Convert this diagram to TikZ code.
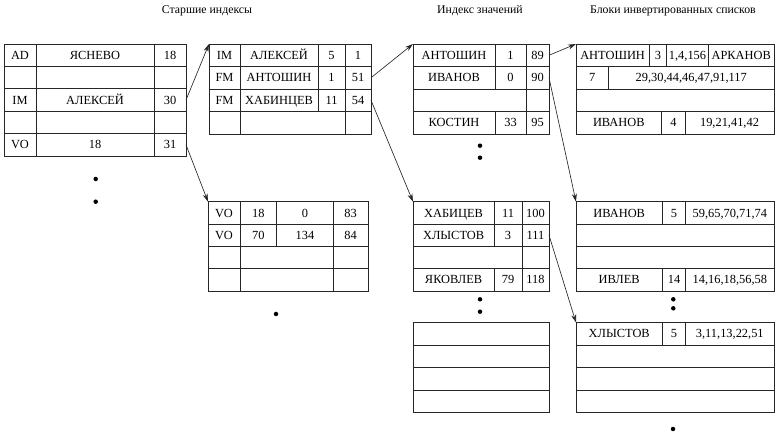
\documentclass[tikz,border=0pt]{standalone}
\usepackage{fontspec}
\setmainfont{Liberation Serif}
\usetikzlibrary{arrows.meta}
\newcommand\cellt[4]{\node[cell] (#1) at (#2,#3+4.2) {#4};}
\begin{document}
\begin{tikzpicture}[x=1pt,y=-1pt,
  tbl/.style={draw=black!85, line width=0.8pt},
  cell/.style={anchor=base, inner sep=0pt, font=\fontsize{12.4}{14}\selectfont},
  title/.style={anchor=base, inner sep=0pt, font=\fontsize{11.8}{13}\selectfont},
  link/.style={draw=black!85, line width=0.65pt, -{Stealth[length=8pt,width=5pt]}},
  bullet/.style={fill=black, circle, inner sep=0pt, minimum size=4.5pt}]
\useasboundingbox (0,0) rectangle (777,435);

% titles
\node[title] (h1) at (207,14) {Старшие индексы};
\node[title] (h2) at (480,14) {Индекс значений};
\node[title] (h3) at (673,14) {Блоки инвертированных списков};

% ---------- table 1
\coordinate (t1nw) at (4,44);
\draw[tbl] (4,44) rectangle (186,156);
\foreach \y in {66.4,88.8,111.2,133.6} \draw[tbl] (4,\y) -- (186,\y);
\foreach \x in {36,154} \draw[tbl] (\x,44) -- (\x,156);
\cellt{a11}{20}{55.2}{AD}
\cellt{a12}{95}{55.2}{ЯСНЕВО}
\cellt{a13}{170}{55.2}{18}
\cellt{a31}{20}{100}{IM}
\cellt{a32}{95}{100}{АЛЕКСЕЙ}
\cellt{a33}{170}{100}{30}
\cellt{a51}{20}{144.8}{VO}
\cellt{a52}{95}{144.8}{18}
\cellt{a53}{170}{144.8}{31}
\coordinate (s1a) at (186,100);
\coordinate (s1b) at (186,144.8);
\node[bullet] (d1) at (95.7,179) {};
\node[bullet] (d2) at (95.7,201.7) {};

% ---------- table 2
\coordinate (t2nw) at (209,44);
\draw[tbl] (209,44) rectangle (371,134);
\foreach \y in {66.5,89,111.5} \draw[tbl] (209,\y) -- (371,\y);
\foreach \x in {240,345} \draw[tbl] (\x,44) -- (\x,134);
\draw[tbl] (318,44) -- (318,111.5);
\cellt{b11}{224.5}{55.25}{IM}
\cellt{b12}{279}{55.25}{АЛЕКСЕЙ}
\cellt{b13}{331.5}{55.25}{5}
\cellt{b14}{358}{55.25}{1}
\cellt{b21}{224.5}{77.75}{FM}
\cellt{b22}{279}{77.75}{АНТОШИН}
\cellt{b23}{331.5}{77.75}{1}
\cellt{b24}{358}{77.75}{51}
\cellt{b31}{224.5}{100.25}{FM}
\cellt{b32}{279}{100.25}{ХАБИНЦЕВ}
\cellt{b33}{331.5}{100.25}{11}
\cellt{b34}{358}{100.25}{54}
\coordinate (s2a) at (371,77.75);
\coordinate (s2b) at (371,100.25);

% ---------- table 3
\coordinate (t3nw) at (208,201.7);
\draw[tbl] (208,201.7) rectangle (368,291);
\foreach \y in {224,246.3,268.6} \draw[tbl] (208,\y) -- (368,\y);
\foreach \x in {240,333.3} \draw[tbl] (\x,201.7) -- (\x,291);
\draw[tbl] (276.7,201.7) -- (276.7,246.3);
\cellt{c11}{224}{212.85}{VO}
\cellt{c12}{258.3}{212.85}{18}
\cellt{c13}{305}{212.85}{0}
\cellt{c14}{350.6}{212.85}{83}
\cellt{c21}{224}{235.15}{VO}
\cellt{c22}{258.3}{235.15}{70}
\cellt{c23}{305}{235.15}{134}
\cellt{c24}{350.6}{235.15}{84}
\node[bullet] (d3) at (276,314) {};

% ---------- table 4
\coordinate (t4nw) at (413,44);
\draw[tbl] (413,44) rectangle (549,134);
\foreach \y in {66.5,89,111.5} \draw[tbl] (413,\y) -- (549,\y);
\draw[tbl] (526,44) -- (526,134);
\draw[tbl] (495,44) -- (495,89);
\draw[tbl] (495,111.5) -- (495,134);
\cellt{e11}{454}{55.25}{АНТОШИН}
\cellt{e12}{510.5}{55.25}{1}
\cellt{e13}{537.5}{55.25}{89}
\cellt{e21}{454}{77.75}{ИВАНОВ}
\cellt{e22}{510.5}{77.75}{0}
\cellt{e23}{537.5}{77.75}{90}
\cellt{e41}{454}{122.75}{КОСТИН}
\cellt{e42}{510.5}{122.75}{33}
\cellt{e43}{537.5}{122.75}{95}
\coordinate (s4a) at (549,55.25);
\coordinate (s4b) at (549,77.75);
\node[bullet] (d4) at (480,145.7) {};
\node[bullet] (d5) at (480,157.7) {};

% ---------- table 5
\coordinate (t5nw) at (413,201.7);
\draw[tbl] (413,201.7) rectangle (549,291);
\foreach \y in {224,246.3,268.6} \draw[tbl] (413,\y) -- (549,\y);
\draw[tbl] (522,201.7) -- (522,291);
\draw[tbl] (494.3,201.7) -- (494.3,246.3);
\draw[tbl] (494.3,268.6) -- (494.3,291);
\cellt{f11}{453.6}{212.85}{ХАБИЦЕВ}
\cellt{f12}{508}{212.85}{11}
\cellt{f13}{535.5}{212.85}{100}
\cellt{f21}{453.6}{235.15}{ХЛЫСТОВ}
\cellt{f22}{508}{235.15}{3}
\cellt{f23}{535.5}{235.15}{111}
\cellt{f41}{453.6}{279.8}{ЯКОВЛЕВ}
\cellt{f42}{508}{279.8}{79}
\cellt{f43}{535.5}{279.8}{118}
\coordinate (s5a) at (549,235.15);
\node[bullet] (d6) at (480,299.3) {};
\node[bullet] (d7) at (480,311.7) {};

% ---------- table 6 (empty)
\draw[tbl] (413,322.5) rectangle (549,412.7);
\foreach \y in {345,367.6,390.2} \draw[tbl] (413,\y) -- (549,\y);

% ---------- table 7
\coordinate (t7nw) at (576,44);
\draw[tbl] (576,44) rectangle (774,134);
\foreach \y in {66.5,89,111.5} \draw[tbl] (576,\y) -- (774,\y);
\foreach \x in {649.3,666.7,708.3} \draw[tbl] (\x,44) -- (\x,66.5);
\draw[tbl] (608.3,66.5) -- (608.3,89);
\foreach \x in {661.7,685} \draw[tbl] (\x,111.5) -- (\x,134);
\cellt{g11}{612.6}{55.25}{АНТОШИН}
\cellt{g12}{658}{55.25}{3}
\cellt{g13}{687.5}{55.25}{1,4,156}
\cellt{g14}{741.2}{55.25}{АРКАНОВ}
\cellt{g21}{592.2}{77.75}{7}
\cellt{g22}{691.2}{77.75}{29,30,44,46,47,91,117}
\cellt{g41}{618.8}{122.75}{ИВАНОВ}
\cellt{g42}{673.4}{122.75}{4}
\cellt{g43}{729.5}{122.75}{19,21,41,42}

% ---------- table 8
\coordinate (t8nw) at (576,201.7);
\draw[tbl] (576,201.7) rectangle (774,291);
\foreach \y in {224,246.3,268.6} \draw[tbl] (576,\y) -- (774,\y);
\foreach \x in {662.3,685.7} {\draw[tbl] (\x,201.7) -- (\x,224); \draw[tbl] (\x,268.6) -- (\x,291);}
\cellt{h11}{619.2}{212.85}{ИВАНОВ}
\cellt{h12}{674}{212.85}{5}
\cellt{h13}{729.8}{212.85}{59,65,70,71,74}
\cellt{h41}{619.2}{279.8}{ИВЛЕВ}
\cellt{h42}{674}{279.8}{14}
\cellt{h43}{729.8}{279.8}{14,16,18,56,58}
\node[bullet] (d8) at (673.3,299.3) {};
\node[bullet] (d9) at (673.3,308.3) {};

% ---------- table 9
\coordinate (t9nw) at (576,322.5);
\draw[tbl] (576,322.5) rectangle (774,412.7);
\foreach \y in {345,367.6,390.2} \draw[tbl] (576,\y) -- (774,\y);
\foreach \x in {662.3,685.7} \draw[tbl] (\x,322.5) -- (\x,345);
\cellt{i11}{619.2}{333.75}{ХЛЫСТОВ}
\cellt{i12}{674}{333.75}{5}
\cellt{i13}{729.8}{333.75}{3,11,13,22,51}
\node[bullet] (d10) at (673,429) {};

% ---------- connectors
\draw[link] (s1a) -- (t2nw);
\draw[link] (s1b) -- (t3nw);
\draw[link] (s2a) -- (t4nw);
\draw[link] (s2b) -- (t5nw);
\draw[link] (s4a) -- (t7nw);
\draw[link] (s4b) -- (t8nw);
\draw[link] (s5a) -- (t9nw);
\end{tikzpicture}
\end{document}
